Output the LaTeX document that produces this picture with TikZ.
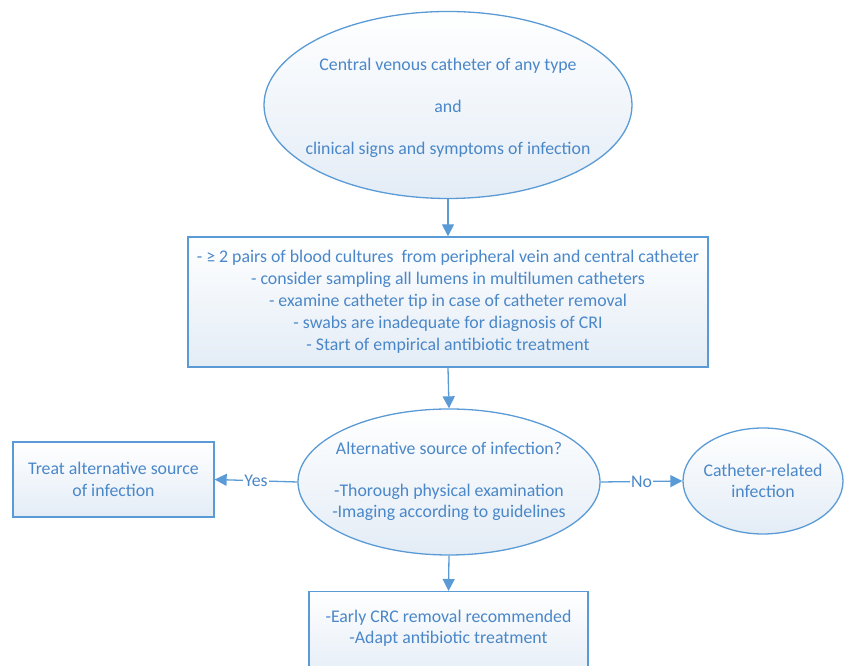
\documentclass[tikz,border=0pt]{standalone}
\usepackage{fontspec}
\setmainfont{Carlito}
\usetikzlibrary{shapes.geometric,arrows.meta}
\definecolor{lineblue}{HTML}{5B9BD5}
\definecolor{textblue}{HTML}{4A87C8}
\definecolor{shadeblue}{HTML}{E3ECF6}
\tikzset{
  shp/.style={draw=lineblue, line width=1.3pt, top color=white, bottom color=shadeblue,
    text=textblue, align=center, inner sep=0pt, font=\fontsize{17.8}{21.5}\selectfont},
  ell/.style={shp, ellipse},
  box/.style={shp, rectangle},
  txt/.style={text=textblue, align=center, inner sep=0pt, font=\fontsize{17.8}{21}\selectfont},
  arr/.style={draw=lineblue, line width=1.3pt, -{Triangle[length=12pt,width=12pt]}},
  lab/.style={fill=white, text=textblue, inner sep=1pt, font=\fontsize{17.8}{21}\selectfont}
}
\begin{document}
\begin{tikzpicture}[x=1pt,y=1pt]
\useasboundingbox (0,0) rectangle (844,666);
\node[ell, minimum width=368, minimum height=187] (top) at (448,561) {};
\node[txt] (toptxt) at (448,558)
  {Central venous catheter of any type\\[21pt] and\\[21pt] clinical signs and symptoms of infection};
\node[box, minimum width=520, minimum height=130, font=\fontsize{17.8}{22}\selectfont] (b1) at (448,364)
  {- ≥ 2 pairs of blood cultures\ \ from peripheral vein and central catheter\\
   - consider sampling all lumens in multilumen catheters\\
   - examine catheter tip in case of catheter removal\\
   - swabs are inadequate for diagnosis of CRI\\
   - Start of empirical antibiotic treatment};
\node[ell, minimum width=302, minimum height=146] (mid) at (449,184) {};
\node[txt] (midtxt) at (449,185)
  {Alternative source of infection?\\[21pt] -Thorough physical examination\\ -Imaging according to guidelines};
\node[box, minimum width=201, minimum height=75] (left) at (113.5,186.5)
  {Treat alternative source\\ of infection};
\node[ell, minimum width=160, minimum height=106] (right) at (763,185) {};
\node[txt] (righttxt) at (right.center) {Catheter-related\\ infection};
\node[box, minimum width=279, minimum height=90, anchor=north] (bot) at (448.5,75) {};
\node[txt] (bottxt) at (448.5,38)
  {-Early CRC removal recommended\\ -Adapt antibiotic treatment};
\draw[arr] (top.south) -- (b1.north);
\draw[arr] (b1.south) -- (mid.north);
\draw[arr] (mid.south) -- (bot.north);
\draw[arr] (mid.west) -- node[lab] {Yes} (left.east);
\draw[arr] (mid.east) -- node[lab] {No} (right.west);
\end{tikzpicture}
\end{document}
